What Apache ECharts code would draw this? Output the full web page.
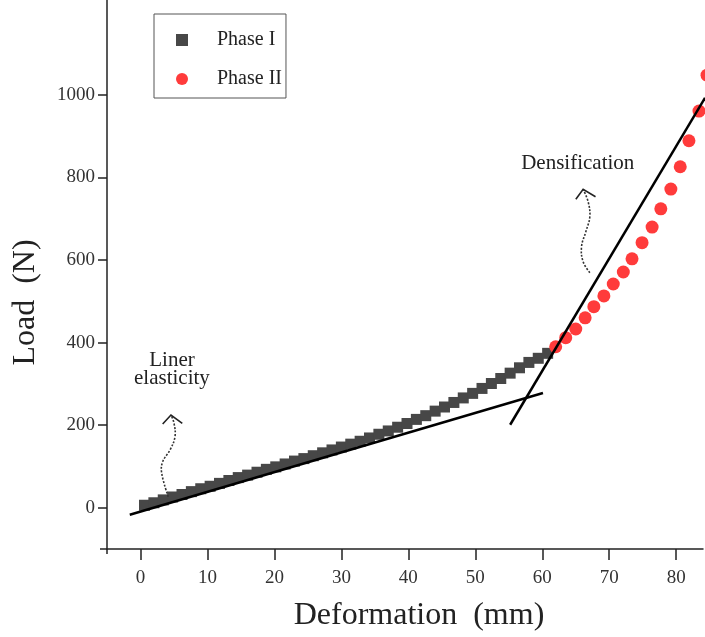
<!DOCTYPE html>
<html><head><meta charset="utf-8">
<script src="https://cdn.jsdelivr.net/npm/echarts@6/dist/echarts.min.js"></script>
<style>html,body{margin:0;padding:0;background:#fff}#c{width:705px;height:637px}</style>
</head><body><div id="c"></div>
<script>
// ---- data ----
const phase1X = [0.6,2.0,3.4,4.8,6.2,7.6,9.0,10.4,11.8,13.2,14.6,16.0,17.4,18.8,20.2,21.6,23.0,24.4,25.8,27.2,28.6,30.0,31.4,32.8,34.2,35.6,37.0,38.4,39.8,41.2,42.6,44.0,45.4,46.8,48.2,49.6,51.0,52.4,53.8,55.2,56.6,58.0,59.4,60.8];
const phase1Load = [6,12,19,26,32,39,46,52,59,66,73,79,86,93,99,106,113,119,126,133,140,147,154,161,169,178,186,195,204,214,223,234,244,255,266,277,289,301,313,326,339,352,362,374];
const phase2X = [62.0,63.5,65.0,66.4,67.7,69.2,70.6,72.1,73.4,74.9,76.4,77.7,79.2,80.6,81.9,83.4,84.6];
const phase2Load = [390,412,433,460,487,513,542,571,603,642,680,724,772,826,889,961,1048];
const fitLine1 = [[-1.6,-17],[60.1,278]];
const fitLine2 = [[55.2,201],[84.3,993]];
const xTickValues = [0,10,20,30,40,50,60,70,80];
const yTickValues = [0,200,400,600,800,1000];
const seriesNames = ['Phase I','Phase II'];
const xName = 'Deformation  (mm)';
const yName = 'Load  (N)';
// annotations: text anchored at data coords, arrows at data coords + pixel offsets
const annoLiner = {text:'Liner\nelasticity', at:[4.7,334]};
const annoDens = {text:'Densification', at:[65.3,835]};
const arrow1 = {at:[4.15,26.6], path:[[0,0],[-6.6,-23.7],[-5.6,-35],[1.7,-46.7],[6.7,-60],[5.7,-73.7],[2.7,-81.7]], head:[[-5.6,-72.7],[2.7,-81.7],[14,-73.4]]};
const arrow2 = {at:[67.1,569.3], path:[[0,0],[-6.7,-11],[-8.3,-26],[-4,-41],[0,-56],[-1.7,-71],[-6.7,-83.4]], head:[[-14,-73.4],[-6.7,-83.4],[5.7,-76]]};

const FONT = "'Liberation Serif','DejaVu Serif',serif";
const X_MIN = -5, X_MAX = 84, Y_MIN = -100, Y_MAX = 1230;
const chart = echarts.init(document.getElementById('c'), null, {renderer:'canvas'});
const zip = (xs, ys) => xs.map((x,i)=>[x, ys[i]]);

chart.setOption({
  animation:false,
  backgroundColor:'#fff',
  grid:{left:107, right:2, top:0, bottom:88, containLabel:false, outerBoundsMode:'none'},
  legend:{
    orient:'vertical', left:154, top:14, padding:[16,4,9,22], itemGap:19, itemWidth:12, itemHeight:12,
    borderColor:'#555', borderWidth:1, borderRadius:0, backgroundColor:'#fff',
    data:[{name:seriesNames[0], icon:'rect'},{name:seriesNames[1], icon:'circle'}],
    textStyle:{fontFamily:FONT, fontSize:20, color:'#222', padding:[0,0,0,24], lineHeight:20}
  },
  xAxis:{
    type:'value', min:X_MIN, max:X_MAX,
    name:xName, nameLocation:'middle', nameGap:51,
    nameTextStyle:{fontFamily:FONT, fontSize:32, color:'#222', padding:[0,0,0,28]},
    axisLine:{show:true, onZero:false, lineStyle:{color:'#222', width:1.5}},
    axisTick:{show:true, length:11, customValues:xTickValues, lineStyle:{color:'#222', width:1.5}},
    axisLabel:{customValues:xTickValues, margin:20, fontFamily:FONT, fontSize:19, color:'#333', formatter:v=>String(v)},
    splitLine:{show:false}
  },
  yAxis:{
    type:'value', min:Y_MIN, max:Y_MAX,
    name:yName, nameLocation:'middle', nameGap:65, nameRotate:90,
    nameTextStyle:{fontFamily:FONT, fontSize:32, color:'#222', padding:[0,56,0,0]},
    axisLine:{show:true, onZero:false, lineStyle:{color:'#222', width:1.5}},
    axisTick:{show:true, length:9, customValues:yTickValues, lineStyle:{color:'#222', width:1.5}},
    axisLabel:{customValues:yTickValues, margin:12, fontFamily:FONT, fontSize:19, color:'#333', formatter:v=>String(v)},
    splitLine:{show:false}
  },
  series:[
    {name:seriesNames[0], type:'scatter', symbol:'rect', symbolSize:11, data:zip(phase1X, phase1Load),
     itemStyle:{color:'#474747', opacity:1}, z:2},
    {name:seriesNames[1], type:'scatter', symbol:'circle', symbolSize:13, clip:false, data:zip(phase2X, phase2Load),
     itemStyle:{color:'#ff3b3b', opacity:1}, z:2},
    {name:'fit1', type:'line', data:fitLine1, showSymbol:false, symbol:'none', silent:true,
     lineStyle:{color:'#000', width:2.5}, z:5},
    {name:'fit2', type:'line', data:fitLine2, showSymbol:false, symbol:'none', silent:true, clip:false,
     lineStyle:{color:'#000', width:2.5}, z:5}
  ]
});

function toPx(p){ return chart.convertToPixel({gridIndex:0}, p); }
function arrowGraphics(a){
  const o = toPx(a.at);
  const pts = a.path.map(d=>[o[0]+d[0], o[1]+d[1]]);
  const hd = a.head.map(d=>[o[0]+d[0], o[1]+d[1]]);
  return [
    {type:'polyline', shape:{points:pts, smooth:0.4}, style:{stroke:'#333', lineWidth:1.6, lineDash:[2,1.6], fill:null}, z:10},
    {type:'polyline', shape:{points:hd}, style:{stroke:'#222', lineWidth:1.6, fill:null}, z:10}
  ];
}
function textGraphic(a){
  const p = toPx(a.at);
  return {type:'text', x:p[0], y:p[1], z:10, style:{text:a.text, fontFamily:FONT, fontSize:21, lineHeight:18, fill:'#222', align:'center', verticalAlign:'middle'}};
}
// small overshoot of the axis lines at the origin corner, as in the reference
const corner = toPx([X_MIN, Y_MIN]);
chart.setOption({graphic:[
  textGraphic(annoLiner), textGraphic(annoDens),
  ...arrowGraphics(arrow1), ...arrowGraphics(arrow2),
  {type:'line', shape:{x1:corner[0], y1:corner[1], x2:corner[0], y2:corner[1]+5}, style:{stroke:'#222', lineWidth:1.5}, z:10},
  {type:'line', shape:{x1:corner[0]-7, y1:corner[1], x2:corner[0], y2:corner[1]}, style:{stroke:'#222', lineWidth:1.5}, z:10}
]});
</script></body></html>
